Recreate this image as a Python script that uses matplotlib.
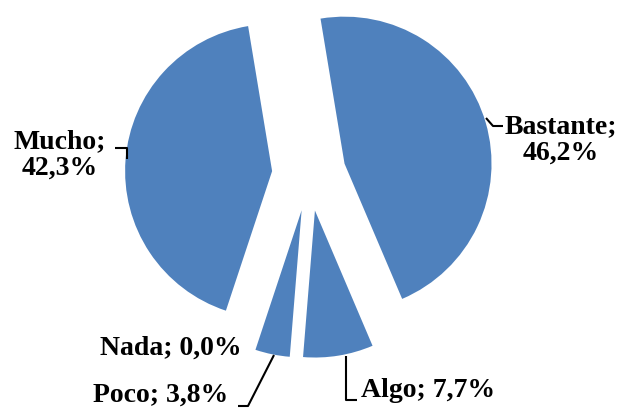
import matplotlib
matplotlib.use("Agg")
from matplotlib import pyplot as plt

# data (clockwise from the top)
categories = ["Bastante", "Algo", "Poco", "Nada", "Mucho"]
values = [46.2, 7.7, 3.8, 0.0, 42.3]
label_breaks = [True, False, False, False, True]

W, H = 626, 414
BLUE = "#4F81BD"

# layout in pixel coords (y measured from the top)
center_px = (309, 175)
radius = 147
explode_px = 37
label_pos = [(561, 140), (428, 391), (161, 395), (171, 348), (60, 155)]
leaders = [
    [(486, 119), (493, 127), (503, 127)],
    [(346, 357), (346, 401), (357, 401)],
    [(238, 407), (248, 407), (274, 356)],
    None,
    [(115, 149), (127, 149), (127, 160)],
]


def fy(y):
    return H - y


fig = plt.figure(figsize=(W / 100, H / 100), dpi=100)
ax = fig.add_axes([0, 0, 1, 1])

ax.pie(
    values,
    explode=[explode_px] * len(values),
    startangle=99.4,
    counterclock=False,
    colors=[BLUE] * len(values),
    radius=radius,
    center=(center_px[0], fy(center_px[1])),
    wedgeprops=dict(linewidth=0, edgecolor="none"),
)

for cat, val, brk, (lx, ly), lead in zip(categories, values, label_breaks, label_pos, leaders):
    sep = "\n" if brk else " "
    txt = f"{cat};{sep}{val:.1f}%".replace(".", ",")
    ax.text(lx, fy(ly), txt, ha="center", va="center", fontsize=20, fontweight="bold",
            family="Liberation Serif", linespacing=1.05, color="black")
    if lead is not None:
        ax.plot([p[0] for p in lead], [fy(p[1]) for p in lead], color="black", lw=1.5,
                solid_capstyle="butt")

ax.set_xlim(0, W)
ax.set_ylim(0, H)
ax.set_aspect("equal")
ax.axis("off")

fig.savefig("out.png", dpi=100)
